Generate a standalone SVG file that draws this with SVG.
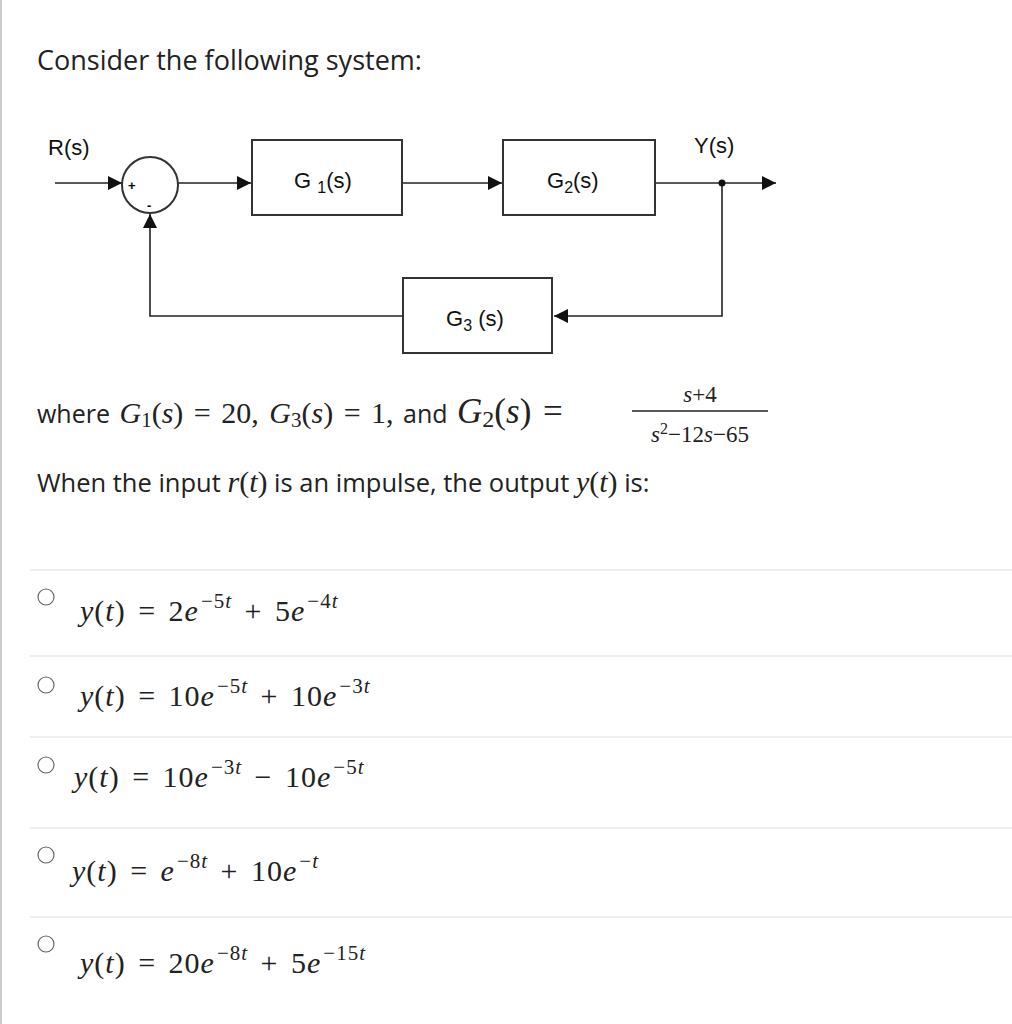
<svg xmlns="http://www.w3.org/2000/svg" width="1012" height="1024" viewBox="0 0 1012 1024">
<style>
.t{font-family:"Open Sans","Liberation Sans",sans-serif;fill:#222}
.m{font-family:"Liberation Serif",serif;font-style:italic}
.n{font-family:"Liberation Serif",serif}
.d{font-family:"Liberation Sans",sans-serif;fill:#111;font-size:22px}
.b{fill:#fff;stroke:#333;stroke-width:2}
.l{stroke:#222;stroke-width:1.6;fill:none}
.s{stroke:#ddd;stroke-width:1.2}
.r{fill:#fff;stroke:#666;stroke-width:1.2}
.o{font-family:"Liberation Serif",serif;fill:#222;font-size:30px;letter-spacing:1px;word-spacing:4px}
</style>
<defs><marker id="a2" viewBox="0 0 10 10" refX="10" refY="5" markerWidth="14" markerHeight="14" markerUnits="userSpaceOnUse" orient="auto"><path d="M0,0L10,5L0,10z" fill="#111"/></marker></defs>
<rect x="0" y="0" width="1012" height="1024" fill="#fff"/>
<line x1="1" y1="0" x2="1" y2="1024" stroke="#ccc" stroke-width="2"/>
<text class="t" x="37" y="70" font-size="27">Consider the following system:</text>
<g id="connectors">
<path class="l" d="M55,183H122" marker-end="url(#a2)"/>
<path class="l" d="M178,183H251" marker-end="url(#a2)"/>
<path class="l" d="M402,183H502" marker-end="url(#a2)"/>
<path class="l" d="M655,183H776" marker-end="url(#a2)"/>
<path class="l" d="M722,183V316H554" marker-end="url(#a2)"/>
<path class="l" d="M403,316H150V214" marker-end="url(#a2)"/>
<circle cx="722" cy="183" r="3.5" fill="#111"/>
</g>
<g id="sum"><circle cx="150" cy="185" r="28" class="b"/>
<text x="128" y="190" font-family="Liberation Sans,sans-serif" font-size="13" font-weight="bold">+</text>
<text x="147" y="210" font-family="Liberation Sans,sans-serif" font-size="13" font-weight="bold">-</text></g>
<g id="G1"><rect x="252" y="140" width="150" height="75" class="b"/><text class="d" x="294" y="188">G <tspan font-size="16" dy="5">1</tspan><tspan dy="-5">(s)</tspan></text></g>
<g id="G2"><rect x="503" y="140" width="152" height="75" class="b"/><text class="d" x="547" y="188">G<tspan font-size="16" dy="5">2</tspan><tspan dy="-5">(s)</tspan></text></g>
<g id="G3"><rect x="403" y="278" width="149" height="75" class="b"/><text class="d" x="446" y="326">G<tspan font-size="16" dy="5">3</tspan><tspan dy="-5"> (s)</tspan></text></g>
<text class="d" x="48" y="155">R(s)</text>
<text class="d" x="694" y="153">Y(s)</text>
<text class="t" x="37" y="423" font-size="25" word-spacing="3">where <tspan class="m" font-size="30">G</tspan><tspan class="n" font-size="21" dy="4">1</tspan><tspan class="n" font-size="30" dy="-4">(</tspan><tspan class="m" font-size="30">s</tspan><tspan class="n" font-size="30">) = 20,  </tspan><tspan class="m" font-size="30">G</tspan><tspan class="n" font-size="21" dy="4">3</tspan><tspan class="n" font-size="30" dy="-4">(</tspan><tspan class="m" font-size="30">s</tspan><tspan class="n" font-size="30">) = 1,</tspan> and  <tspan class="m" font-size="35">G</tspan><tspan class="n" font-size="24" dy="4">2</tspan><tspan class="n" font-size="35" dy="-4">(</tspan><tspan class="m" font-size="35">s</tspan><tspan class="n" font-size="35">) =</tspan></text>
<line x1="632" y1="411" x2="768" y2="411" stroke="#222" stroke-width="1.5"/>
<text class="n" x="700" y="402" font-size="23" text-anchor="middle" fill="#222"><tspan font-style="italic">s</tspan>+4</text>
<text class="n" x="700" y="442" font-size="23" text-anchor="middle" fill="#222"><tspan font-style="italic">s</tspan><tspan font-size="16" dy="-8">2</tspan><tspan dy="8">−12</tspan><tspan font-style="italic">s</tspan>−65</text>
<text class="t" x="37" y="492" font-size="25.5">When the input <tspan class="m" font-size="30">r</tspan><tspan class="n" font-size="30">(</tspan><tspan class="m" font-size="30">t</tspan><tspan class="n" font-size="30">)</tspan> is an impulse, the output <tspan class="m" font-size="30">y</tspan><tspan class="n" font-size="30">(</tspan><tspan class="m" font-size="30">t</tspan><tspan class="n" font-size="30">)</tspan> is:</text>
<g id="options">
<line class="s" x1="30" y1="570" x2="1012" y2="570"/>
<line class="s" x1="30" y1="656" x2="1012" y2="656"/>
<line class="s" x1="30" y1="737" x2="1012" y2="737"/>
<line class="s" x1="30" y1="828" x2="1012" y2="828"/>
<line class="s" x1="30" y1="917" x2="1012" y2="917"/>
<circle class="r" cx="46" cy="597" r="8"/><circle class="r" cx="46" cy="685" r="8"/><circle class="r" cx="46" cy="765" r="8"/><circle class="r" cx="46" cy="855" r="8"/><circle class="r" cx="46" cy="944" r="8"/>
<text class="o" x="80" y="621"><tspan font-style="italic">y</tspan>(<tspan font-style="italic">t</tspan>) = 2<tspan font-style="italic">e</tspan><tspan font-size="21" dx="2" dy="-13">−5<tspan font-style="italic">t</tspan></tspan><tspan dy="13"> + 5</tspan><tspan font-style="italic">e</tspan><tspan font-size="21" dx="2" dy="-13">−4<tspan font-style="italic">t</tspan></tspan></text>
<text class="o" x="80" y="706"><tspan font-style="italic">y</tspan>(<tspan font-style="italic">t</tspan>) = 10<tspan font-style="italic">e</tspan><tspan font-size="21" dx="2" dy="-13">−5<tspan font-style="italic">t</tspan></tspan><tspan dy="13"> + 10</tspan><tspan font-style="italic">e</tspan><tspan font-size="21" dx="2" dy="-13">−3<tspan font-style="italic">t</tspan></tspan></text>
<text class="o" x="74" y="787"><tspan font-style="italic">y</tspan>(<tspan font-style="italic">t</tspan>) = 10<tspan font-style="italic">e</tspan><tspan font-size="21" dx="2" dy="-13">−3<tspan font-style="italic">t</tspan></tspan><tspan dy="13"> − 10</tspan><tspan font-style="italic">e</tspan><tspan font-size="21" dx="2" dy="-13">−5<tspan font-style="italic">t</tspan></tspan></text>
<text class="o" x="72" y="881"><tspan font-style="italic">y</tspan>(<tspan font-style="italic">t</tspan>) = <tspan font-style="italic">e</tspan><tspan font-size="21" dx="2" dy="-13">−8<tspan font-style="italic">t</tspan></tspan><tspan dy="13"> + 10</tspan><tspan font-style="italic">e</tspan><tspan font-size="21" dx="2" dy="-13">−<tspan font-style="italic">t</tspan></tspan></text>
<text class="o" x="80" y="973"><tspan font-style="italic">y</tspan>(<tspan font-style="italic">t</tspan>) = 20<tspan font-style="italic">e</tspan><tspan font-size="21" dx="2" dy="-13">−8<tspan font-style="italic">t</tspan></tspan><tspan dy="13"> + 5</tspan><tspan font-style="italic">e</tspan><tspan font-size="21" dx="2" dy="-13">−15<tspan font-style="italic">t</tspan></tspan></text>
</g>
</svg>
